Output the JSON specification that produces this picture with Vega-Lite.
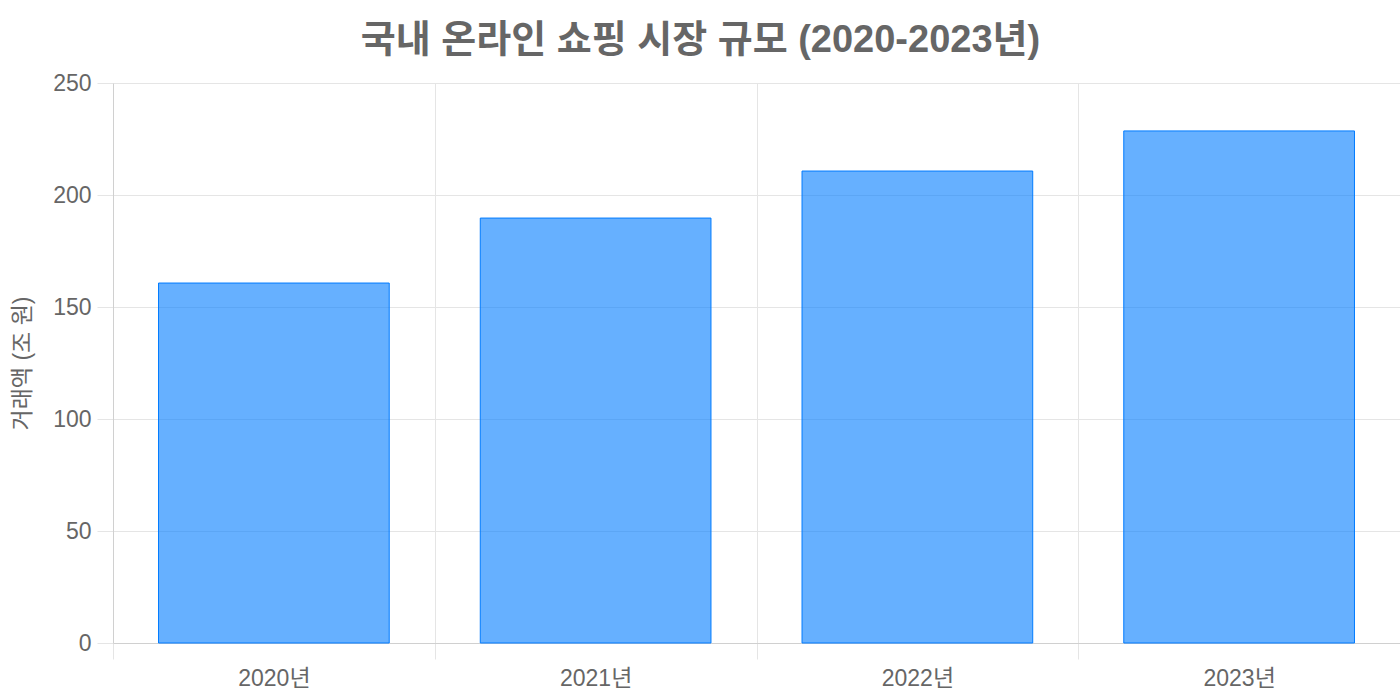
{
  "$schema": "https://vega.github.io/schema/vega-lite/v6.json",
  "width": 1287,
  "height": 560,
  "autosize": {"type": "none"},
  "padding": {"left": 113, "top": 83, "right": 0, "bottom": 57},
  "background": "white",
  "title": {
    "text": "국내 온라인 쇼핑 시장 규모 (2020-2023년)",
    "font": "Liberation Sans, Noto Sans CJK KR, sans-serif",
    "fontSize": 38,
    "fontWeight": "bold",
    "color": "#666666",
    "anchor": "middle",
    "dx": -56,
    "offset": 12
  },
  "data": {
    "values": [
      {"연도": "2020년", "거래액": 160.7},
      {"연도": "2021년", "거래액": 189.7},
      {"연도": "2022년", "거래액": 210.7},
      {"연도": "2023년", "거래액": 228.6}
    ]
  },
  "config": {
    "view": {"stroke": null},
    "axis": {
      "labelFont": "Liberation Sans, Noto Sans CJK KR, sans-serif",
      "titleFont": "Liberation Sans, Noto Sans CJK KR, sans-serif",
      "labelFontSize": 23,
      "labelColor": "#666666",
      "titleColor": "#666666",
      "gridColor": "#e5e5e5",
      "tickColor": "#e5e5e5",
      "domainColor": "#d0d0d0",
      "tickSize": 16
    }
  },
  "mark": {
    "type": "bar",
    "color": "#007bff",
    "fillOpacity": 0.6,
    "stroke": "#007bff",
    "strokeWidth": 1,
    "width": {"band": 0.717}
  },
  "encoding": {
    "x": {
      "field": "연도",
      "type": "ordinal",
      "scale": {"paddingInner": 0, "paddingOuter": 0},
      "axis": {
        "title": null,
        "labelAngle": 0,
        "grid": true,
        "tickBand": "extent",
        "labelPadding": 8,
        "domainColor": "#d0d0d0"
      }
    },
    "y": {
      "field": "거래액",
      "type": "quantitative",
      "scale": {"domain": [0, 250], "nice": false},
      "axis": {
        "title": "거래액 (조 원)",
        "titleFontSize": 23,
        "titleFontWeight": "normal",
        "titlePadding": 18,
        "values": [0, 50, 100, 150, 200, 250],
        "labelPadding": 6
      }
    }
  }
}
